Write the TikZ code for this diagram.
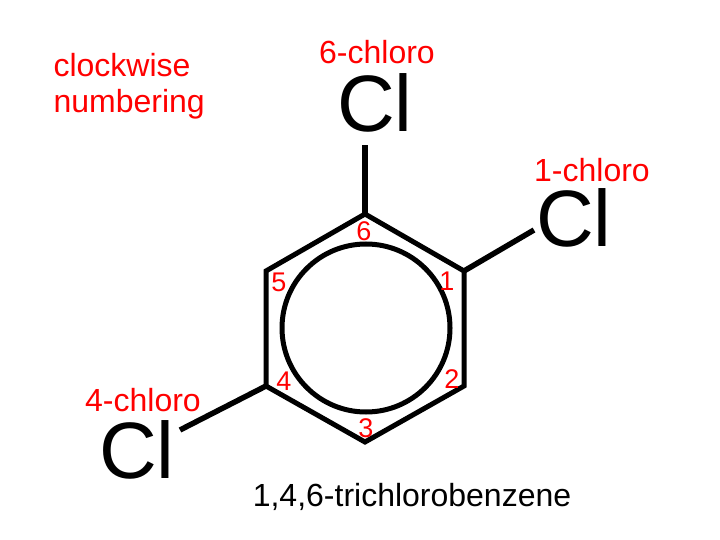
\documentclass[tikz,border=0pt]{standalone}
\usepackage{fontspec}
\setmainfont{Liberation Sans}
\begin{document}
\begin{tikzpicture}[x=1pt,y=-1pt,
  red/.style={text=red,font=\fontsize{32}{36}\selectfont},
  num/.style={text=red,font=\fontsize{27}{29}\selectfont},
  cl/.style={font=\fontsize{80}{82}\selectfont},
  bond/.style={line width=5.5pt}]
\useasboundingbox (0,0) rectangle (720,540);
\coordinate (v6) at (365,214);
\coordinate (v1) at (464,271);
\coordinate (v2) at (464,386);
\coordinate (v3) at (365,442);
\coordinate (v4) at (266,386);
\coordinate (v5) at (266,271);
\draw[line width=5pt,line join=miter] (v6)--(v1)--(v2)--(v3)--(v4)--(v5)--cycle;
\draw[line width=5pt] (366,328) circle (84);
\node[cl] (c6) at (375,103) {Cl};
\node[cl] (c1) at (574,218) {Cl};
\node[cl] (c4) at (137,450) {Cl};
\coordinate (e6) at (365,145);
\coordinate (e1) at (534,230);
\coordinate (e4) at (180,430);
\draw[bond] (v6)--(e6);
\draw[bond] (v1)--(e1);
\draw[bond] (v4)--(e4);
\node[red] (t6) at (377,52) {6-chloro};
\node[red] (t1) at (592,170) {1-chloro};
\node[red] (t4) at (143,400) {4-chloro};
\node[red,align=left,anchor=west] (cw) at (50,86) {clockwise\\[0pt]numbering};
\node[num] (n6) at (364,231) {6};
\node[num] (n1) at (447,281) {1};
\node[num] (n2) at (452,379) {2};
\node[num] (n3) at (366,428) {3};
\node[num] (n4) at (284,381) {4};
\node[num] (n5) at (279,282) {5};
\node[font=\fontsize{32}{36}\selectfont] (name) at (412,497) {1,4,6-trichlorobenzene};
\end{tikzpicture}
\end{document}
